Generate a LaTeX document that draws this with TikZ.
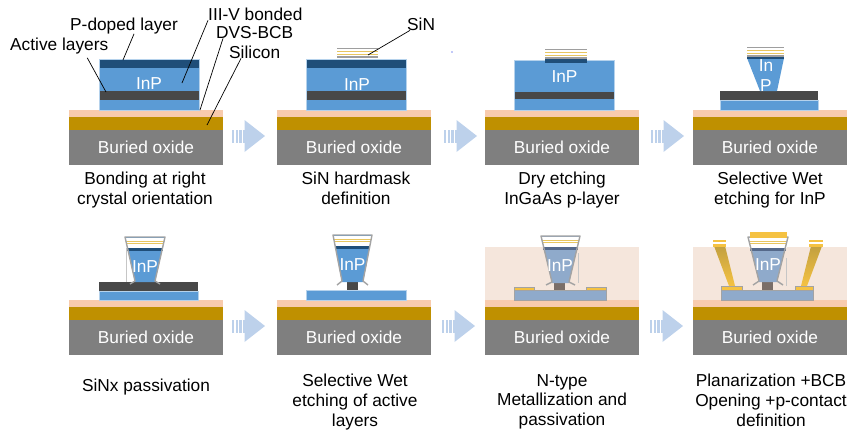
\documentclass[tikz,border=0pt]{standalone}
\usepackage{fontspec}
\setmainfont{Liberation Sans}
\usetikzlibrary{positioning}

\definecolor{oxgray}{HTML}{7F7F7F}
\definecolor{sigold}{HTML}{BF9000}
\definecolor{dvspink}{HTML}{F8CBAD}
\definecolor{pblue}{HTML}{1F4E79}
\definecolor{pdim}{HTML}{55698A}
\definecolor{inpblue}{HTML}{5B9BD5}
\definecolor{actgray}{HTML}{484848}
\definecolor{bcbfill}{HTML}{F5E6DC}
\definecolor{inpdim}{HTML}{8FAACB}
\definecolor{postgray}{HTML}{7A6E68}
\definecolor{metal}{HTML}{F5C242}
\definecolor{metaldark}{HTML}{C2A040}
\definecolor{sinyel}{HTML}{E8C660}
\definecolor{singray}{HTML}{9E9E9E}
\definecolor{flowblue}{HTML}{BDD1EB}
\definecolor{passgray}{HTML}{A3A3A3}

\tikzset{
  txt/.style={font=\fontsize{17.3}{19.8}\selectfont, inner sep=0pt},
  wtxt/.style={txt, text=white},
  caption/.style={txt, align=center, anchor=north},
  leader/.style={draw=black, line width=0.7pt},
  mesa/.style={draw=inpblue!45!white, line width=0.4pt},
  pass/.style={draw=passgray, line width=1.4pt, line join=round},
  edge/.style={draw=gray!45, line width=0.4pt},
}

% substrate stack: #1 = left edge, #2 = top of DVS-BCB, #3 = node name
\newcommand{\wafer}[3]{%
  \fill[dvspink] (#1,#2) rectangle ++(154,7);
  \fill[sigold] (#1,#2+7) rectangle ++(154,13);
  \fill[oxgray] (#1,#2+20) rectangle ++(154,34.5);
  \node[wtxt] (#3) at (#1+77,#2+37.5) {Buried oxide};
}
% SiN hard mask, #1/#2 = left/right, #3 = top
\newcommand{\hardmask}[3]{%
  \fill[white] (#1,#3) rectangle (#2,#3+10);
  \fill[singray] (#1,#3) rectangle (#2,#3+1.3);
  \fill[sinyel] (#1,#3+3.4) rectangle (#2,#3+4.4);
  \fill[sinyel] (#1,#3+5.8) rectangle (#2,#3+6.8);
  \fill[singray] (#1,#3+8.2) rectangle (#2,#3+10);
}
% mask left on the taper, #4 = colour of the p-layer strip
\newcommand{\capmask}[4]{%
  \fill[white] (#1,#3) rectangle (#2,#3+9.5);
  \fill[sinyel] (#1,#3+3) rectangle (#2,#3+4);
  \fill[sinyel] (#1,#3+5.4) rectangle (#2,#3+6.4);
  \fill[#4] (#1+1,#3+9.5) rectangle (#2-1,#3+12.5);
}
% process flow arrow, #1 = left end, #2 = middle height
\newcommand{\flowarrow}[2]{%
  \foreach \s in {0,3.7,7.4}
    \fill[flowblue] (#1+\s,#2-6.5) rectangle ++(2.2,13);
  \fill[flowblue] (#1+11,#2-6.5) rectangle (#1+13,#2+6.5);
  \fill[flowblue] (#1+12.5,#2-16) -- (#1+33,#2) -- (#1+12.5,#2+16) -- cycle;
}

\begin{document}
\begin{tikzpicture}[x=1pt,y=-1pt]
  \useasboundingbox (0,0) rectangle (850,432);

  % --- bonding
  \wafer{69}{110}{ox1}
  \fill[inpblue] (99,59) rectangle (199,110);
  \fill[pblue] (99,59) rectangle (199,68);
  \fill[actgray] (99,91) rectangle (199,100);
  \draw[mesa] (99,59) rectangle (199,110);
  \node[wtxt] (inp1) at (149,84) {InP};
  \node[txt, anchor=base west] (pdoped) at (70,30) {P-doped layer};
  \node[txt, anchor=base west] (active) at (10,50) {Active layers};
  \node[txt, anchor=base west] (bonded) at (208,20) {III-V bonded};
  \node[txt, anchor=base west] (dvs) at (216,38) {DVS-BCB};
  \node[txt, anchor=base west] (si) at (229,58) {Silicon};
  \coordinate (pdopedend) at (123,60);
  \coordinate (activeend) at (106,92);
  \coordinate (bondedend) at (182,83);
  \coordinate (dvsend) at (200,110);
  \coordinate (siend) at (207,125);
  \draw[leader] ([xshift=10pt]pdoped.south) -- (pdopedend);
  \draw[leader] ([xshift=28pt,yshift=-4pt]active.south) -- (activeend);
  \draw[leader] (bonded.south west) -- (bondedend);
  \draw[leader] ([xshift=7pt]dvs.south west) -- (dvsend);
  \draw[leader] ([xshift=12pt]si.south west) -- (siend);
  \node[caption] (cap1) at (145,172) {Bonding at right\\crystal orientation};

  \flowarrow{232}{136}

  % --- hard mask
  \wafer{277}{110}{ox2}
  \fill[inpblue] (306,59) rectangle (406,110);
  \fill[pblue] (306,59) rectangle (406,68);
  \fill[actgray] (306,91) rectangle (406,100);
  \draw[mesa] (306,59) rectangle (406,110);
  \hardmask{337}{378}{48}
  \node[wtxt] (inp2) at (357,85) {InP};
  \node[txt, anchor=base west] (sin) at (407,30) {SiN};
  \coordinate (sinend) at (368,55);
  \draw[leader] ([xshift=3pt]sin.south west) -- (sinend);
  \fill[flowblue!70!blue] (452,52) circle (0.9);
  \node[caption] (cap2) at (356,172) {SiN hardmask\\definition};

  \flowarrow{444}{136}

  % --- dry etch of the p-layer
  \wafer{485}{110}{ox3}
  \fill[inpblue] (514,60) rectangle (614,110);
  \fill[actgray] (514,92) rectangle (614,99);
  \draw[mesa] (514,60) rectangle (614,110);
  \fill[pblue] (545,59) rectangle (587,63);
  \hardmask{545}{587}{49}
  \node[wtxt] (inp3) at (564.5,77) {InP};
  \node[caption] (cap3) at (562,172) {Dry etching\\InGaAs p-layer};

  \flowarrow{651}{136}

  % --- wet etch of InP
  \wafer{693}{110}{ox4}
  \fill[inpblue] (720,100) rectangle (818,110);
  \fill[actgray] (720,91) rectangle (818,100);
  \draw[mesa] (720,100) rectangle (818,110);
  \fill[inpblue] (747,58) -- (784,58) -- (777,91) -- (760,91) -- cycle;
  \fill[pblue] (747,56.5) rectangle (784,59);
  \hardmask{747}{784}{47}
  \node[wtxt] (inp4a) at (766,66) {In};
  \node[wtxt] (inp4b) at (766,86) {P};
  \node[caption] (cap4) at (770,172) {Selective Wet\\etching for InP};

  % --- SiNx passivation
  \wafer{69}{300}{ox5}
  \fill[inpblue] (99,291) rectangle (198,300);
  \fill[actgray] (99,282) rectangle (198,291);
  \draw[mesa] (99,291) rectangle (198,300);
  \draw[edge] (126,238) -- (126,282);
  \fill[inpblue] (125,237) -- (165,237) -- (155,282) -- (135,282) -- cycle;
  \capmask{126}{164}{238}{pblue}
  \draw[pass] (130,284) -- (135,281) -- (125,237) -- (165,237) -- (155,281) -- (160,284);
  \node[wtxt] (inp5) at (145,266.5) {InP};
  \node[caption] (cap5) at (146,379) {SiNx passivation};

  \flowarrow{232}{326}

  % --- active layer etch
  \wafer{277}{300}{ox6}
  \fill[inpblue] (306,290) rectangle (406,300);
  \draw[mesa] (306,290) rectangle (406,300);
  \fill[actgray] (347,282) rectangle (358,290);
  \fill[inpblue] (333,235) -- (372,235) -- (363,282) -- (342,282) -- cycle;
  \capmask{334}{371}{236}{pblue}
  \draw[pass] (337,285) -- (342,281) -- (333,235) -- (372,235) -- (363,281) -- (368,285);
  \node[wtxt] (inp6) at (352.5,265) {InP};
  \node[caption] (cap6) at (355,374) {Selective Wet\\etching of active\\layers};

  \flowarrow{442}{326}

  % --- n-contact and passivation
  \wafer{485}{300}{ox7}
  \fill[bcbfill] (485,247) rectangle (639,300);
  \fill[inpdim] (514,290) rectangle (606,300);
  \draw[passgray, line width=0.5pt] (514,290) rectangle (606,300);
  \fill[metal, draw=passgray, line width=0.5pt] (514,287) rectangle (534,290);
  \fill[metal, draw=passgray, line width=0.5pt] (586,287) rectangle (606,290);
  \fill[postgray] (554,283) rectangle (565,290);
  \draw[edge] (578,253) -- (578,283);
  \fill[inpdim] (541,236) -- (580,236) -- (569,283) -- (552,283) -- cycle;
  \capmask{542}{579}{237}{pdim}
  \draw[pass] (546,285) -- (552,282) -- (541,236) -- (580,236) -- (569,282) -- (575,285);
  \node[wtxt] (inp7) at (560,266) {InP};
  \node[caption] (cap7) at (562,374) {N-type\\Metallization and\\passivation};

  \flowarrow{650}{326}

  % --- planarization and p-contact
  \wafer{693}{300}{ox8}
  \fill[bcbfill] (693,247) rectangle (847,300);
  \fill[inpdim] (721,290) rectangle (813,300);
  \draw[passgray, line width=0.5pt] (721,290) rectangle (813,300);
  \fill[metal, draw=passgray, line width=0.5pt] (721,286.5) rectangle (742,290);
  \fill[metal, draw=passgray, line width=0.5pt] (795,286.5) rectangle (813,290);
  \fill[postgray] (762,282) rectangle (773,290);
  \draw[edge] (786,258) -- (786,286);
  \fill[inpdim] (748,237) -- (788,237) -- (777,282) -- (759,282) -- cycle;
  \capmask{749}{787}{238}{pdim}
  \draw[pass] (753,285) -- (759,281) -- (748,237) -- (788,237) -- (777,281) -- (783,285);
  \fill[metal] (750,231.5) rectangle (787,237.5);
  % vias through the BCB
  \shade[top color=metaldark, bottom color=metal] (714,246) -- (725,246) -- (735,286) -- (729,286) -- cycle;
  \shade[top color=metaldark, bottom color=metal] (811,246) -- (822,246) -- (807,286) -- (801,286) -- cycle;
  \fill[metal] (713,240) rectangle (726,246.5);
  \fill[white] (713,242.4) rectangle (726,243.6);
  \fill[metal] (809,240) rectangle (823,246.5);
  \fill[white] (809,242.4) rectangle (823,243.6);
  \node[wtxt] (inp8) at (768,265) {InP};
  \node[caption] (cap8) at (771,374) {Planarization +BCB\\Opening +p-contact\\definition};
\end{tikzpicture}
\end{document}
